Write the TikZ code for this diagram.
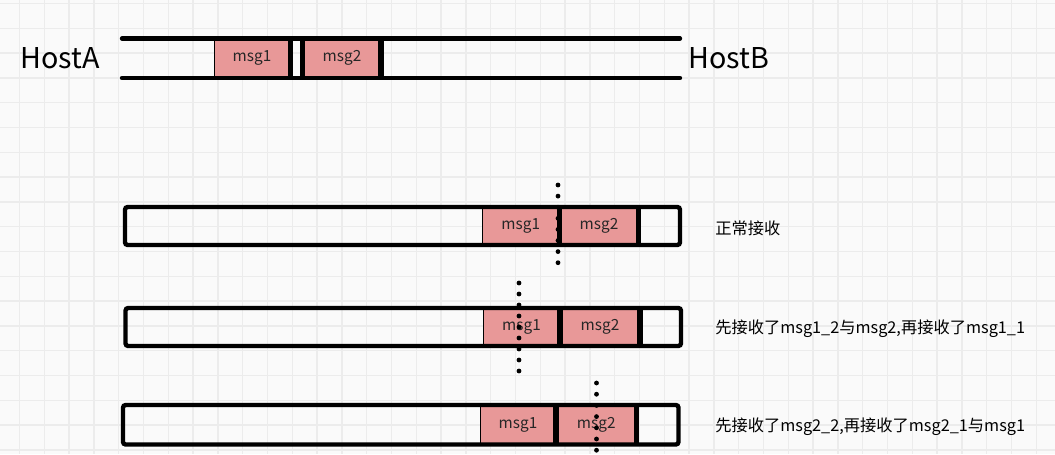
\documentclass[tikz,border=0pt]{standalone}
\usepackage{fontspec}
\setmainfont{Noto Sans CJK SC}
\definecolor{msgpink}{RGB}{232,152,152}
\definecolor{bgc}{RGB}{250,250,250}
\definecolor{gridc}{RGB}{236,236,236}
\begin{document}
\begin{tikzpicture}[x=0.75pt,y=-0.75pt,
  gridline/.style={draw=gridc, line width=1.1pt},
  wire/.style={line width=3.3pt, line cap=round},
  msgbox/.style={fill=msgpink, draw=black, line width=0.7pt},
  sepbar/.style={line width=4pt},
  framebox/.style={draw=black, line width=3.3pt, rounded corners=2pt},
  hostlabel/.style={font=\fontsize{21.5pt}{25pt}\selectfont, anchor=west, inner sep=0pt},
  msglabel/.style={font=\fontsize{11.5pt}{13pt}\selectfont, text=black!85, inner sep=0pt},
  notelabel/.style={font=\fontsize{12.2pt}{14pt}\selectfont, anchor=west, inner sep=0pt},
  dotmark/.style={fill=black}]
\useasboundingbox[fill=bgc] (0,0) rectangle (1055,454);
% grid
\foreach \i in {0,...,42} \draw[gridline] ({19.5+24.8*\i},0) -- ({19.5+24.8*\i},454);
\foreach \j in {0,...,18} \draw[gridline] (0,{3.5+24.8*\j}) -- (1055,{3.5+24.8*\j});
% top link
\draw[msgbox] (214,40.5) rectangle (290.5,76);
\draw[msgbox] (302.5,40.5) rectangle (381,76);
\draw[sepbar] (290.5,38.5) -- (290.5,78);
\draw[sepbar] (302.5,38.5) -- (302.5,78);
\draw[sepbar] (381,38.5) -- (381,78);
\draw[wire] (122,38.5) -- (680,38.5);
\draw[wire] (122,78) -- (680,78);
\node[msglabel] (tm1) at (252,58) {msg1};
\node[msglabel] (tm2) at (342,58) {msg2};
\node[hostlabel] (hosta) at (20,58) {HostA};
\node[hostlabel] (hostb) at (688,58) {HostB};
% receive rows
\foreach \n/\L/\T/\R/\B/\ml/\ba/\bb/\dx/\dy/\dn/\ds/\txt in {
  1/125/207/680/245/482/559.5/638.5/558/185/7/11.1/{正常接收},
  2/125.5/308/681/346/483/560/640/519/283/8/11/{先接收了msg1\_2与msg2,再接收了msg1\_1},
  3/123/405/678.5/444.5/480/556/636.5/596.5/383/6/11.2/{先接收了msg2\_2,再接收了msg2\_1与msg1}}{
  \draw[msgbox] (\ml,\T) rectangle (\ba,\B);
  \draw[msgbox] (\ba,\T) rectangle (\bb,\B);
  \draw[sepbar] (\ba,\T) -- (\ba,\B);
  \draw[sepbar] (\bb,\T) -- (\bb,\B);
  \draw[framebox] (\L,\T) rectangle (\R,\B);
  \node[msglabel] (m1-\n) at ({(\ml+\ba)/2},{(\T+\B)/2}) {msg1};
  \node[msglabel] (m2-\n) at ({(\ba+\bb)/2},{(\T+\B)/2}) {msg2};
  \node[notelabel] (note-\n) at (715,{(\T+\B)/2+2}) {\txt};
  \foreach \k in {0,...,\dn} \fill[dotmark] (\dx,{\dy+\ds*\k}) circle (1.8pt);
}
\end{tikzpicture}
\end{document}
